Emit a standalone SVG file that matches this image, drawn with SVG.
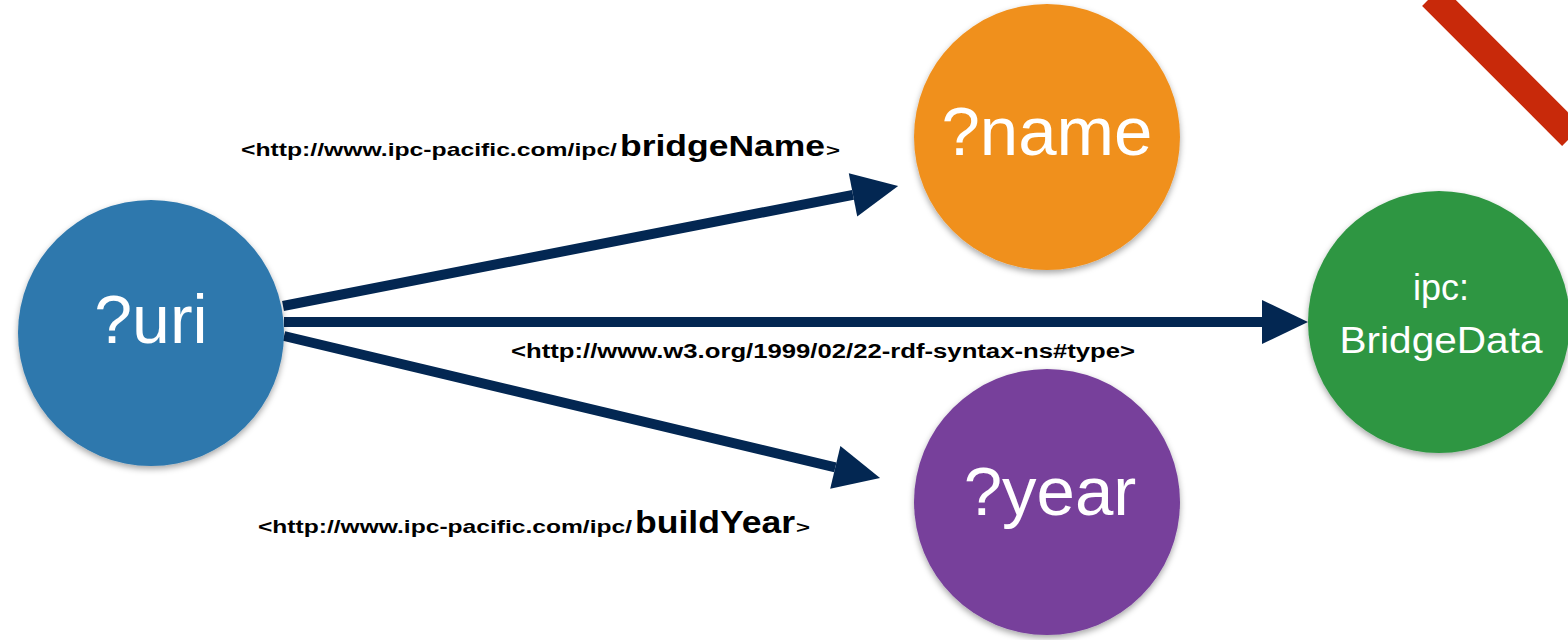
<svg xmlns="http://www.w3.org/2000/svg" width="1568" height="640" viewBox="0 0 1568 640">
<defs>
<filter id="sh" x="-20%" y="-20%" width="140%" height="140%"><feDropShadow dx="0" dy="3" stdDeviation="3" flood-color="#000" flood-opacity="0.35"/></filter>
<marker id="ah" markerUnits="userSpaceOnUse" markerWidth="46" markerHeight="44" refX="0" refY="22" orient="auto" overflow="visible"><path d="M0,0 L46,22 L0,44 Z" fill="#032752"/></marker>
</defs>
<style>
.edge{stroke:#032752;stroke-width:10;fill:none;marker-end:url(#ah)}
.nt{font-family:"Liberation Sans",Arial,sans-serif;fill:#fff;text-anchor:middle}
.lbl{font-family:"Liberation Sans",Arial,sans-serif;font-weight:bold;fill:#000}
</style>
<rect width="1568" height="640" fill="#fff"/>
<line x1="1432" y1="-4" x2="1572" y2="136" stroke="#c8290a" stroke-width="28"/>
<g id="connectors">
<line class="edge" x1="283" y1="306" x2="853" y2="194.8"/>
<line class="edge" x1="284" y1="322" x2="1262" y2="322"/>
<line class="edge" x1="284" y1="336" x2="835.3" y2="467.3"/>
</g>
<g id="labels">
<text class="lbl" y="156" font-size="19"><tspan x="241" textLength="376" lengthAdjust="spacingAndGlyphs">&lt;http://www.ipc-pacific.com/ipc/</tspan><tspan x="620" font-size="30" textLength="205" lengthAdjust="spacingAndGlyphs">bridgeName</tspan><tspan x="826" font-size="17" textLength="14" lengthAdjust="spacingAndGlyphs">&gt;</tspan></text>
<text class="lbl" x="511" y="358" font-size="20" textLength="624" lengthAdjust="spacingAndGlyphs">&lt;http://www.w3.org/1999/02/22-rdf-syntax-ns#type&gt;</text>
<text class="lbl" y="533" font-size="19"><tspan x="258" textLength="374" lengthAdjust="spacingAndGlyphs">&lt;http://www.ipc-pacific.com/ipc/</tspan><tspan x="635" font-size="31" textLength="160" lengthAdjust="spacingAndGlyphs">buildYear</tspan><tspan x="796" font-size="17" textLength="14" lengthAdjust="spacingAndGlyphs">&gt;</tspan></text>
</g>
<g id="node-uri"><circle cx="151" cy="333" r="133" fill="#2e78ad" filter="url(#sh)"/><text class="nt" x="151" y="343" font-size="68">?uri</text></g>
<g id="node-name"><circle cx="1047" cy="137" r="133" fill="#f0901e" filter="url(#sh)"/><text class="nt" x="1047" y="155" font-size="69">?name</text></g>
<g id="node-year"><circle cx="1047" cy="502" r="133" fill="#77409b" filter="url(#sh)"/><text class="nt" x="1050" y="515" font-size="69">?year</text></g>
<g id="node-bridgedata"><circle cx="1439" cy="322" r="131" fill="#2f9643" filter="url(#sh)"/><text class="nt" x="1441" y="300" font-size="36">ipc:</text><text class="nt" x="1441" y="353" font-size="36" textLength="203" lengthAdjust="spacingAndGlyphs">BridgeData</text></g>
</svg>
